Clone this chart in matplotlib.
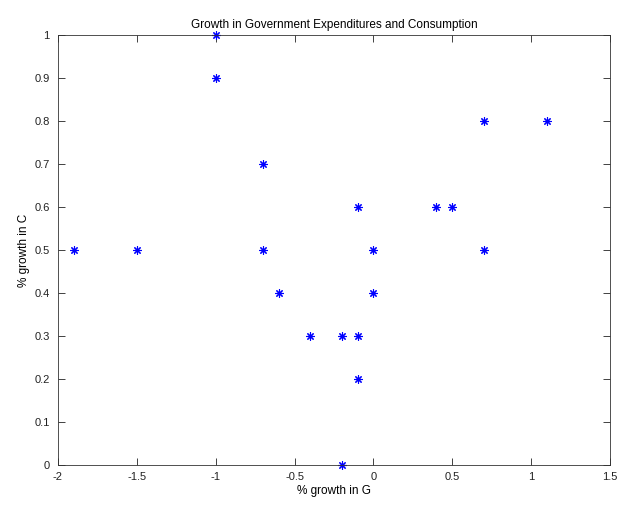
import matplotlib
matplotlib.use("Agg")
import matplotlib.pyplot as plt

# % growth in G (x) and % growth in C (y)
growth_g = [-1.9, -1.5, -1.0, -1.0, -0.7, -0.7, -0.6, -0.4, -0.2, -0.2,
            -0.1, -0.1, -0.1, 0.0, 0.0, 0.4, 0.5, 0.7, 0.7, 1.1]
growth_c = [0.5, 0.5, 1.0, 0.9, 0.7, 0.5, 0.4, 0.3, 0.3, 0.0,
            0.6, 0.3, 0.2, 0.5, 0.4, 0.6, 0.6, 0.8, 0.5, 0.8]

x_ticks = [-2, -1.5, -1, -0.5, 0, 0.5, 1, 1.5]
x_labels = ["-2", "-1.5", "-1", "-0.5", "0", "0.5", "1", "1.5"]
y_ticks = [0, 0.1, 0.2, 0.3, 0.4, 0.5, 0.6, 0.7, 0.8, 0.9, 1]
y_labels = ["0", "0.1", "0.2", "0.3", "0.4", "0.5", "0.6", "0.7", "0.8", "0.9", "1"]

plt.rcParams["font.family"] = ["Liberation Sans", "DejaVu Sans"]

fig = plt.figure(figsize=(6.4, 5.11), dpi=100)
ax = fig.add_axes([0.0906, 0.090, 0.8625, 0.8415])

# MATLAB-style asterisk: 8 spokes
ax.plot(growth_g, growth_c, linestyle="none", marker=(8, 2, 0),
        markersize=6, markeredgewidth=0.8, color="blue", clip_on=False)

ax.set_xlim(-2, 1.5)
ax.set_ylim(0, 1)
ax.set_xticks(x_ticks)
ax.set_xticklabels(x_labels)
ax.set_yticks(y_ticks)
ax.set_yticklabels(y_labels)
ax.tick_params(direction="in", top=True, right=True, length=5,
               labelsize=8, colors="#222222", width=0.6)
ax.tick_params(axis="y", pad=6)
ax.tick_params(axis="x", pad=5)
for s in ax.spines.values():
    s.set_color("#333333")
    s.set_linewidth(0.6)

ax.set_title("Growth in Government Expenditures and Consumption",
             fontsize=8.5, pad=5)
ax.set_xlabel("% growth in G", fontsize=8.5, labelpad=2)
ax.set_ylabel("% growth in C", fontsize=8.5, labelpad=3)

fig.savefig("out.png", dpi=100)
